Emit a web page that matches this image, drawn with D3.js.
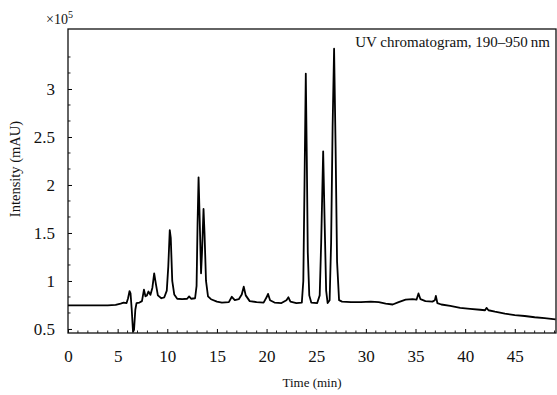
<!DOCTYPE html>
<html>
<head>
<meta charset="utf-8">
<script src="https://cdn.jsdelivr.net/npm/d3@7"></script>
<style>
  body { margin: 0; background: #fff; }
  text { font-family: "Liberation Serif", "DejaVu Serif", serif; fill: #111; }
</style>
</head>
<body>
<svg id="chart"></svg>
<script>
// retention time (min) and intensity (x10^5 mAU)
var times = [0, 1, 2, 3, 4, 4.8, 5.3, 5.6, 5.9, 6.05, 6.2, 6.3, 6.42, 6.55, 6.65, 6.78, 6.9,
    7.2, 7.45, 7.65, 7.8, 7.95, 8.1, 8.3, 8.5, 8.68, 8.85, 9.05, 9.4, 9.7, 9.95,
    10.1, 10.25, 10.35, 10.5, 10.7, 11.0, 11.5, 12.0, 12.2, 12.4, 12.8, 12.95,
    13.05, 13.15, 13.25, 13.4, 13.5, 13.65, 13.75, 13.9, 14.1, 14.4, 15.0, 15.5,
    16.2, 16.5, 16.8, 17.2, 17.5, 17.7, 17.9, 18.3, 19.0, 19.7, 20.0, 20.15, 20.35,
    20.8, 21.5, 22.0, 22.2, 22.4, 23.0, 23.55, 23.7, 23.82, 23.95, 24.05, 24.15,
    24.3, 24.5, 25.1, 25.35, 25.5, 25.7, 25.85, 26.0, 26.15, 26.35, 26.5, 26.65,
    26.8, 26.95, 27.1, 27.3, 27.6, 28.5, 29.5, 30.5, 31.3, 32.0, 32.7, 33.3, 34.0,
    34.7, 35.1, 35.3, 35.5, 36.0, 36.7, 36.95, 37.05, 37.2, 37.6, 38.5, 39.5, 40.5,
    41.5, 42.0, 42.15, 42.35, 43.0, 44.0, 45.0, 46.0, 47.0, 48.0, 49.1]
var intensity = [0.745, 0.745, 0.746, 0.745, 0.746, 0.75, 0.765, 0.775, 0.77, 0.82, 0.895, 0.87, 0.70, 0.47, 0.49, 0.70, 0.77,
    0.775, 0.79, 0.91, 0.84, 0.85, 0.89, 0.855, 0.93, 1.08, 0.97, 0.85, 0.82, 0.83, 0.9,
    1.15, 1.53, 1.45, 1.0, 0.86, 0.815, 0.81, 0.815, 0.84, 0.815, 0.82, 0.95,
    1.6, 2.08, 1.7, 1.08, 1.3, 1.75, 1.5, 1.0, 0.84, 0.81, 0.785, 0.775,
    0.78, 0.835, 0.80, 0.81, 0.86, 0.94, 0.85, 0.79, 0.78, 0.775, 0.83, 0.865, 0.80,
    0.775, 0.77, 0.80, 0.83, 0.785, 0.77, 0.775, 1.0, 2.0, 3.16, 2.3, 1.3,
    0.85, 0.775, 0.77, 0.85, 1.4, 2.35, 1.6, 0.9, 0.77, 0.8, 1.4, 2.6,
    3.42, 2.4, 1.2, 0.8, 0.785, 0.78, 0.78, 0.785, 0.78, 0.765, 0.755, 0.78, 0.805,
    0.81, 0.805, 0.87, 0.81, 0.79, 0.785, 0.80, 0.845, 0.77, 0.755, 0.74, 0.72, 0.71,
    0.70, 0.695, 0.72, 0.695, 0.68, 0.66, 0.645, 0.635, 0.622, 0.612, 0.60]

var xTicks = [0, 5, 10, 15, 20, 25, 30, 35, 40, 45]
var yTicks = [0.5, 1, 1.5, 2, 2.5, 3]

var dimensions = {
    width: 557,
    height: 395,
    margin: { top: 29, right: 1, bottom: 62, left: 68 }
}
var plotW = dimensions.width - dimensions.margin.left - dimensions.margin.right
var plotH = dimensions.height - dimensions.margin.top - dimensions.margin.bottom

var svg = d3.select("#chart")
    .attr("width", dimensions.width)
    .attr("height", dimensions.height)

var g = svg.append("g")
    .attr("transform", "translate(" + dimensions.margin.left + "," + dimensions.margin.top + ")")

var xScale = d3.scaleLinear().domain([0, 49.15]).range([0, plotW])
var yScale = d3.scaleLinear().domain([0.458, 3.625]).range([plotH, 0])

// minor ticks
var xMinor = d3.range(0, 50, 1).filter(d => d % 5 != 0)
var yMinor = d3.range(0.5, 3.62, 0.5 / 3).filter(d => Math.abs(d * 2 - Math.round(d * 2)) > 0.01)

g.selectAll(".xminor").data(xMinor).enter().append("line")
    .attr("x1", d => xScale(d)).attr("x2", d => xScale(d))
    .attr("y1", plotH).attr("y2", plotH - 2.5)
    .attr("stroke", "#222").attr("stroke-width", 1)

g.selectAll(".yminor").data(yMinor).enter().append("line")
    .attr("x1", 0).attr("x2", 2.5)
    .attr("y1", d => yScale(d)).attr("y2", d => yScale(d))
    .attr("stroke", "#222").attr("stroke-width", 1)

var xAxisgen = d3.axisBottom(xScale).tickValues(xTicks).tickSizeInner(-4).tickSizeOuter(0).tickPadding(17)
var yAxisgen = d3.axisLeft(yScale).tickValues(yTicks).tickFormat(d => String(d))
    .tickSizeInner(-4).tickSizeOuter(0).tickPadding(13)

var xAxis = g.append("g")
    .attr("transform", "translate(0," + plotH + ")")
    .call(xAxisgen)
xAxis.select(".domain").remove()
xAxis.selectAll("text").style("font-size", "17px").attr("fill", "#111")

var yAxis = g.append("g").call(yAxisgen)
yAxis.select(".domain").remove()
yAxis.selectAll("text").style("font-size", "17px").attr("fill", "#111")

// frame
g.append("rect")
    .attr("x", 0).attr("y", 0)
    .attr("width", plotW).attr("height", plotH)
    .attr("fill", "none").attr("stroke", "#111").attr("stroke-width", 1.3)

g.append("clipPath").attr("id", "clip")
    .append("rect").attr("width", plotW).attr("height", plotH)

var line = d3.line()
    .x((d, i) => xScale(times[i]))
    .y(d => yScale(d))

g.append("path")
    .datum(intensity)
    .attr("clip-path", "url(#clip)")
    .attr("d", line)
    .attr("fill", "none")
    .attr("stroke", "#000")
    .attr("stroke-width", 1.8)
    .attr("stroke-linejoin", "round")

// labels
svg.append("text")
    .attr("x", 550).attr("y", 47)
    .attr("text-anchor", "end")
    .style("font-size", "15px")
    .text("UV chromatogram, 190\u2013950\u2009nm")

var mult = svg.append("text").attr("x", 46).attr("y", 24).style("font-size", "14px")
mult.append("tspan").text("\u00d710")
mult.append("tspan").attr("dy", -6).style("font-size", "10px").text("5")

svg.append("text")
    .attr("x", dimensions.margin.left + plotW / 2).attr("y", 387)
    .attr("text-anchor", "middle")
    .style("font-size", "13px")
    .text("Time (min)")

svg.append("text")
    .attr("transform", "translate(20,169) rotate(-90)")
    .attr("text-anchor", "middle")
    .style("font-size", "14.5px")
    .text("Intensity (mAU)")
</script>
</body>
</html>
